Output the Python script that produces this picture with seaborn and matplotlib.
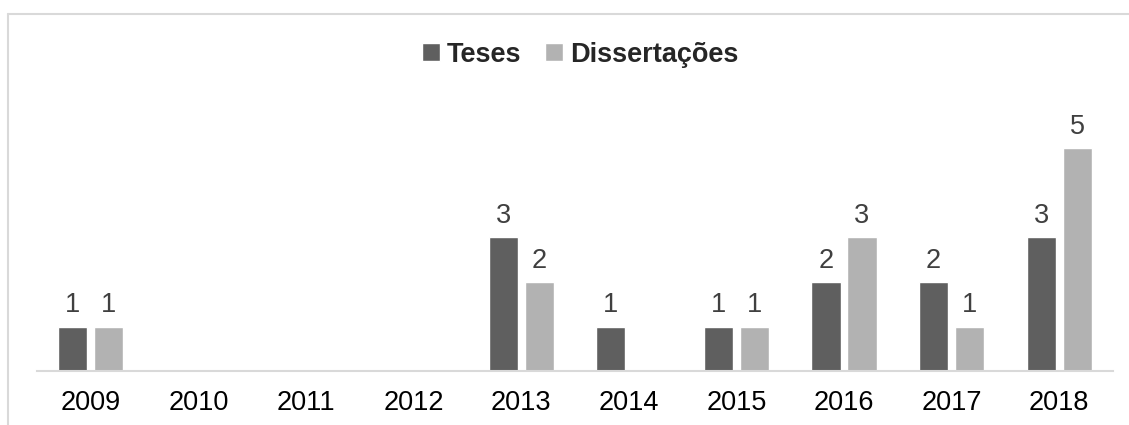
import numpy as np
import pandas as pd
import matplotlib
matplotlib.use("Agg")
import matplotlib.pyplot as plt
import seaborn as sns
from matplotlib.lines import Line2D

anos = ["2009", "2010", "2011", "2012", "2013", "2014", "2015", "2016", "2017", "2018"]
teses = [1, 0, 0, 0, 3, 1, 1, 2, 2, 3]
dissertacoes = [1, 0, 0, 0, 2, 0, 1, 3, 1, 5]
series = ["Teses", "Dissertações"]
cores = ["#5f5f5f", "#b2b2b2"]

df = pd.DataFrame({"Ano": anos * 2,
                   "Valor": teses + dissertacoes,
                   "Tipo": [series[0]] * len(anos) + [series[1]] * len(anos)})

sns.set_style("white")
plt.rcParams["font.family"] = ["Liberation Sans", "DejaVu Sans"]

fig = plt.figure(figsize=(11.29, 4.25), dpi=100)
ax = fig.add_axes([37 / 1129, 54 / 425, (1113 - 37) / 1129, 267 / 425])

sns.barplot(data=df, x="Ano", y="Valor", hue="Tipo", palette=cores,
            width=0.67, gap=0.19, ax=ax, saturation=1, legend=True)

for cont in ax.containers:
    labs = [str(int(v)) if v > 0 else "" for v in cont.datavalues]
    ax.bar_label(cont, labels=labs, padding=6, fontsize=19.5, color="#404040")

ax.set_xlim(-0.5, 9.5)
ax.set_ylim(0, 6)
ax.set_xlabel("")
ax.set_ylabel("")
ax.set_yticks([])
ax.tick_params(axis="x", length=0, pad=14, labelsize=19.5, labelcolor="#000000")
for s in ["top", "right", "left"]:
    ax.spines[s].set_visible(False)
ax.spines["bottom"].set_color("#d9d9d9")
ax.spines["bottom"].set_linewidth(1.5)

leg = ax.legend(loc="upper center", bbox_to_anchor=(580 / 1129, 1 - 28 / 425),
                bbox_transform=fig.transFigure, ncol=2, frameon=False,
                handlelength=0.65, handleheight=0.65, handletextpad=0.25,
                columnspacing=0.9, prop={"weight": "bold", "size": 19.5},
                borderpad=0)

# borda do gráfico
fig.add_artist(Line2D([7.5 / 1129, 7.5 / 1129], [0, 1 - 14 / 425],
                      transform=fig.transFigure, color="#d9d9d9", lw=1.5))
fig.add_artist(Line2D([7.5 / 1129, 1], [1 - 14 / 425, 1 - 14 / 425],
                      transform=fig.transFigure, color="#d9d9d9", lw=1.5))

fig.savefig("out.png", dpi=100)
